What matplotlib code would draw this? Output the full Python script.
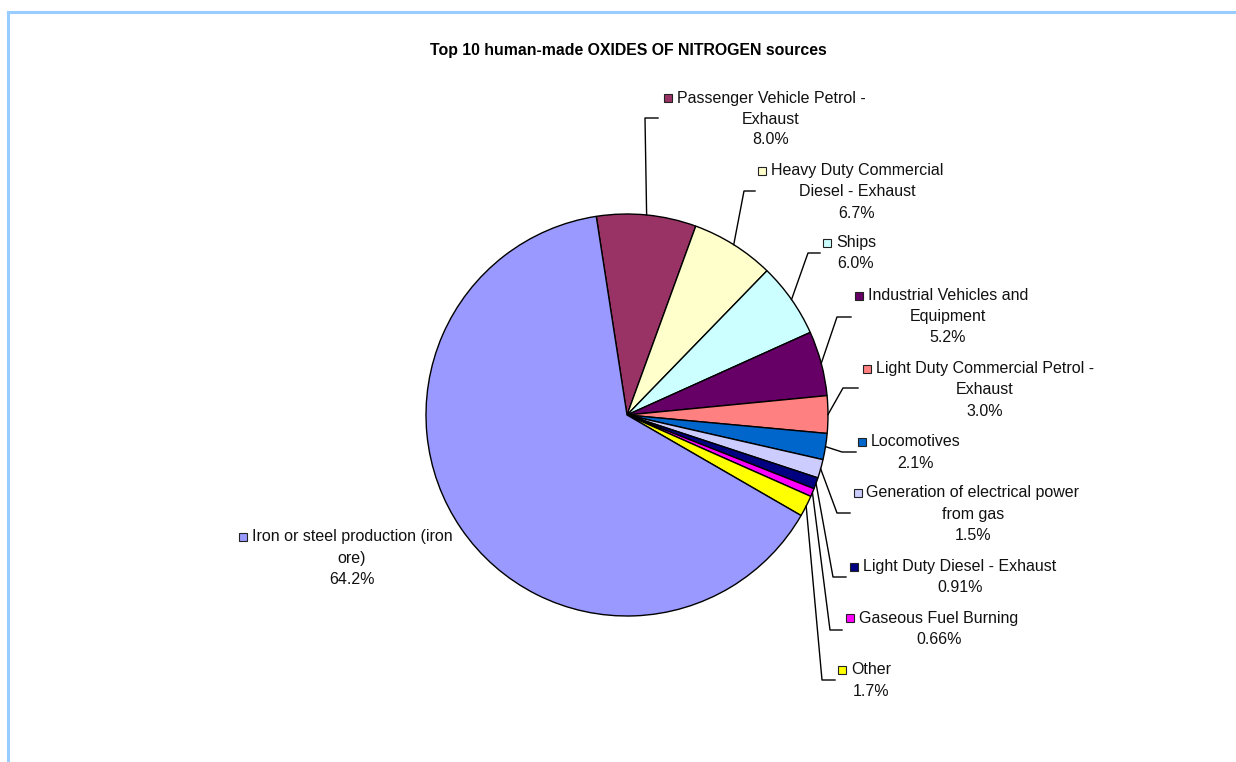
import matplotlib.pyplot as plt
from matplotlib.patches import Rectangle
from matplotlib.lines import Line2D
import numpy as np

plt.rcParams['font.family'] = ['Liberation Sans', 'DejaVu Sans']

W, H = 1236, 762

# NOx sources, clockwise from the top
sources = [
    'Passenger Vehicle Petrol -\nExhaust',
    'Heavy Duty Commercial\nDiesel - Exhaust',
    'Ships',
    'Industrial Vehicles and\nEquipment',
    'Light Duty Commercial Petrol -\nExhaust',
    'Locomotives',
    'Generation of electrical power\nfrom gas',
    'Light Duty Diesel - Exhaust',
    'Gaseous Fuel Burning',
    'Other',
    'Iron or steel production (iron\nore)',
]
shares = [8.0, 6.7, 6.0, 5.2, 3.0, 2.1, 1.5, 0.91, 0.66, 1.7, 64.2]
colors = ['#993366', '#FFFFCC', '#CCFFFF', '#660066', '#FF8080', '#0066CC',
          '#CCCCFF', '#000080', '#FF00FF', '#FFFF00', '#9999FF']

# label block placement in pixels (centre x of text, y of first line)
label_pos = [(771, 98), (857, 171), (856, 243), (948, 296), (985, 369),
             (916, 442), (973, 493), (960, 567), (939, 618), (871, 670),
             (352, 537)]
# leader line elbow and end (pixels), None = no leader
leaders = [((645, 118), (658, 118)), ((744, 191), (755, 191)),
           ((808, 253), (820, 253)), ((837, 317), (851, 317)),
           ((843, 388), (858, 388)), ((842, 452), (856, 452)),
           ((837, 513), (850, 513)), ((833, 577), (846, 577)),
           ((830, 630), (842, 630)), ((822, 680), (835, 680)), None]

cx, cy, r = 627, 415, 201
line_h = 21


def fy(y):
    return H - y


fig = plt.figure(figsize=(W / 100, H / 100), dpi=100)
ax = fig.add_axes([0, 0, 1, 1])
ax.axis('off')

wedges, _ = ax.pie(shares, colors=colors, startangle=98.8, counterclock=False,
                   center=(cx, fy(cy)), radius=r,
                   wedgeprops=dict(edgecolor='black', linewidth=1.0))
ax.set_xlim(0, W)
ax.set_ylim(0, H)
ax.set_aspect('equal')

# frame lines on the left and top
ax.add_line(Line2D([8, 8], [0, fy(12)], color='#99CCFF', lw=2.2))
ax.add_line(Line2D([8, W], [fy(12), fy(12)], color='#99CCFF', lw=2.2))

ax.text(628, fy(51), 'Top 10 human-made OXIDES OF NITROGEN sources',
        ha='center', va='center', fontsize=11.4, fontweight='bold')

first_lines = []
for name, val, (lx, ly) in zip(sources, shares, label_pos):
    pct = f'{val:.1f}%' if val >= 1 else f'{val:.2f}%'
    lines = name.split('\n') + [pct]
    for i, s in enumerate(lines):
        t = ax.text(lx, fy(ly + i * line_h), s, ha='center', va='center',
                    fontsize=11.5, color='#111111')
        if i == 0:
            first_lines.append(t)

# leader lines from slice middles
for w, ld in zip(wedges, leaders):
    if ld is None:
        continue
    mid = np.deg2rad((w.theta1 + w.theta2) / 2)
    px = cx + r * np.cos(mid)
    py = fy(cy) + r * np.sin(mid)
    (ex, ey), (tx, ty) = ld
    ax.add_line(Line2D([px, ex, tx], [py, fy(ey), fy(ty)],
                       color='black', lw=1.0))

# legend keys in front of the first label line
fig.canvas.draw()
inv = ax.transData.inverted()
for t, c in zip(first_lines, colors):
    bb = t.get_window_extent()
    x0, _ = inv.transform((bb.x0, bb.y0))
    _, ymid = inv.transform((bb.x0, (bb.y0 + bb.y1) / 2))
    ax.add_patch(Rectangle((x0 - 13, ymid - 4), 8, 8, facecolor=c,
                           edgecolor='#222222', lw=0.8))

fig.savefig('out.png', dpi=100)
